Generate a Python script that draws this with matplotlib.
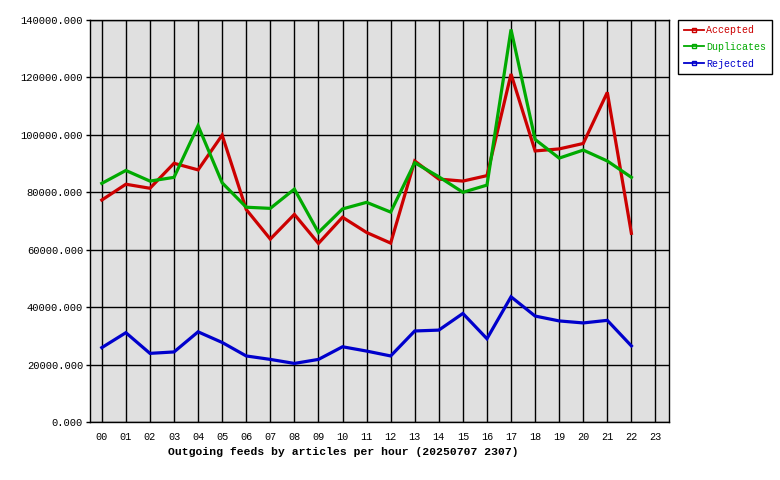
import matplotlib
matplotlib.use("Agg")
import matplotlib.pyplot as plt
from matplotlib.lines import Line2D

hours = ["00", "01", "02", "03", "04", "05", "06", "07", "08", "09", "10", "11",
         "12", "13", "14", "15", "16", "17", "18", "19", "20", "21", "22", "23"]

accepted = [77300, 82800, 81400, 90100, 87800, 99900, 74000, 63700, 72300, 62200,
            71300, 66000, 62300, 90900, 84600, 83900, 85800, 121200, 94400, 95100,
            97000, 114800, 65700]
duplicates = [83100, 87600, 83900, 85200, 103200, 83300, 74800, 74400, 81100, 66000,
              74200, 76500, 73100, 90300, 85400, 80000, 82500, 136700, 98400, 91900,
              94700, 90900, 85200]
rejected = [25900, 31100, 23900, 24400, 31400, 27700, 23000, 21800, 20400, 21800,
            26200, 24700, 23000, 31700, 32000, 37800, 29000, 43600, 36900, 35200,
            34500, 35400, 26500]

series = [("Accepted", accepted, "#cc0000"),
          ("Duplicates", duplicates, "#00aa00"),
          ("Rejected", rejected, "#0000cc")]

plt.rcParams["font.family"] = ["Liberation Mono", "DejaVu Sans Mono"]

fig = plt.figure(figsize=(7.8, 4.8), dpi=100)
ax = fig.add_axes([90 / 780, 1 - 422 / 480, 578.7 / 780, 402 / 480])
ax.set_facecolor("#e0e0e0")

for name, vals, col in series:
    ax.plot(range(len(vals)), vals, color=col, lw=2.3, solid_joinstyle="miter", zorder=3)

ax.set_xlim(-0.49, 23.55)
ax.set_ylim(0, 140000)
ax.set_xticks(range(len(hours)))
ax.set_xticklabels(hours, fontsize=7.3)
ax.set_yticks(range(0, 140001, 20000))
ax.set_yticklabels(["%d.000" % v for v in range(0, 140001, 20000)], fontsize=7.6)
ax.grid(True, color="black", lw=1)
ax.set_axisbelow(True)
ax.tick_params(axis="y", length=3, width=1, pad=2)
ax.tick_params(axis="x", length=0, pad=7)
for sp in ax.spines.values():
    sp.set_linewidth(1)
    sp.set_color("black")

# title sits left of the plot centre in the original
fig.text(343 / 780, 1 - 452 / 480, "Outgoing feeds by articles per hour (20250707 2307)",
         ha="center", va="center", fontsize=8.2, fontweight="bold")

handles = [Line2D([0], [0], color=col, lw=1.3, marker="s", ms=3, mfc="none", mew=1)
           for name, vals, col in series]
leg = fig.legend(handles, [s[0] for s in series], loc="upper left",
                 bbox_to_anchor=(678 / 780, 1 - 19.5 / 480), fontsize=7.2,
                 frameon=True, fancybox=False, framealpha=1, edgecolor="black",
                 handlelength=2.0, handletextpad=0.3, borderpad=0.55,
                 labelspacing=0.68, borderaxespad=0)
leg.get_frame().set_linewidth(1)
for txt, (name, vals, col) in zip(leg.get_texts(), series):
    txt.set_color(col)

fig.savefig("out.png", dpi=100)
